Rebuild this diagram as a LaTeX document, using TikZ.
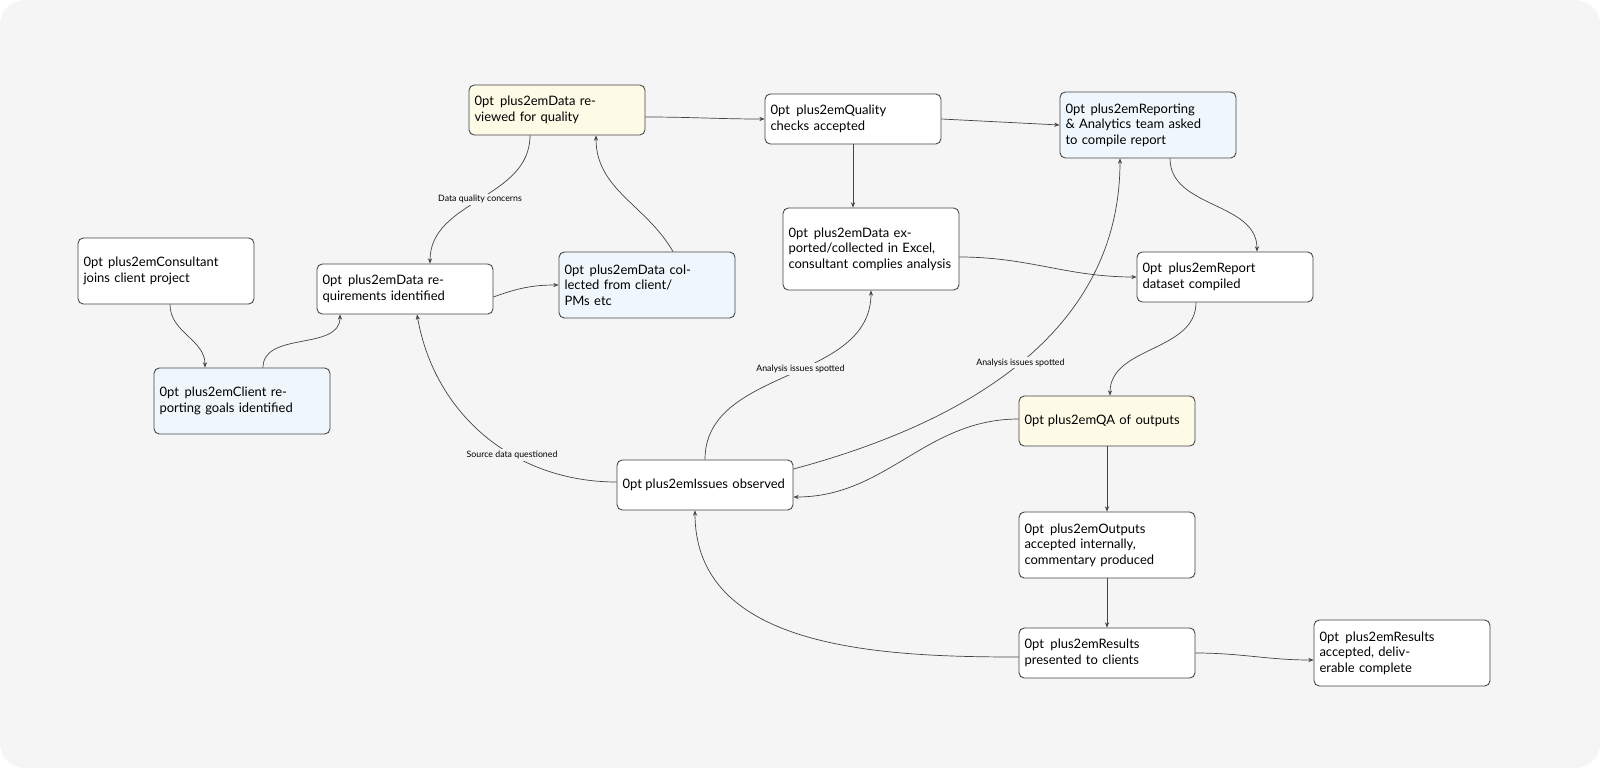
\documentclass[tikz,border=0pt]{standalone}
\usepackage{fontspec}
\setmainfont{Lato}
\usetikzlibrary{arrows.meta,calc}
\definecolor{bgc}{HTML}{F5F5F5}
\definecolor{bluef}{HTML}{EFF6FC}
\definecolor{yelf}{HTML}{FDFAE6}
\definecolor{edg}{HTML}{444444}
\begin{document}
\begin{tikzpicture}[x=0.02cm,y=-0.02cm,
 box/.style={draw=edg,line width=0.5pt,rounded corners=3pt,fill=white,minimum width=3.52cm,align=center,text width=3.3cm,font=\fontsize{7.4}{8.8}\selectfont\hyphenpenalty=10000,inner sep=0pt},
 h50/.style={minimum height=1cm},
 h66/.style={minimum height=1.32cm},
 blue/.style={fill=bluef}, yel/.style={fill=yelf},
 ar/.style={draw=edg,line width=0.4pt,-{Stealth[length=3pt,width=2.4pt]}},
 lab/.style={fill=bgc,font=\fontsize{5}{6}\selectfont,inner sep=1pt}]
\fill[white] (0,0) rectangle (1600,768);
\fill[bgc,rounded corners=14pt] (0,0) rectangle (1600,768);
\node[box,h66] (cons) at (166,271) {Consultant joins client project};
\node[box,h66,blue] (goals) at (242,401) {Client reporting goals identified};
\node[box,h50] (req) at (405,289) {Data requirements identified};
\node[box,h66,blue] (coll) at (647,285) {Data collected from client/\\PMs etc};
\node[box,h50,yel] (rev) at (557,110) {Data reviewed for quality};
\node[box,h50] (qc) at (853,119) {Quality checks accepted};
\node[box,h66,blue] (rat) at (1148,125) {Reporting \& Analytics team asked to compile report};
\node[box,minimum height=1.64cm] (exp) at (871,249) {Data exported/collected in Excel, consultant complies analysis};
\node[box,h50] (rds) at (1225,277) {Report dataset compiled};
\node[box,h50,yel] (qa) at (1107,421) {QA of outputs};
\node[box,h50] (iss) at (705,485) {Issues observed};
\node[box,h66] (out) at (1107,545) {Outputs accepted internally, commentary produced};
\node[box,h50] (res) at (1107,653) {Results presented to clients};
\node[box,h66] (acc) at (1402,653) {Results accepted, deliverable complete};
\draw[ar] ($(cons.south)+(4,0)$) to[out=-90,in=90] ($(goals.north)+(-37,0)$);
\draw[ar] ($(goals.north)+(21,0)$) to[out=90,in=-90] ($(req.south)+(-65,0)$);
\draw[ar] ($(req.east)+(0,8)$) to[out=20,in=180] (coll.west);
\draw[ar] ($(coll.north)+(26,0)$) to[out=120,in=-90] ($(rev.south)+(39,0)$);
\draw[ar] ($(rev.south)+(-27,0)$) to[out=-90,in=90] node[lab,pos=0.5]{Data quality concerns} ($(req.north)+(25,0)$);
\draw[ar] ($(rev.east)+(0,7)$) to[out=0,in=180] (qc.west);
\draw[ar] (qc.east) -- (rat.west);
\draw[ar] (qc.south) -- (qc.south|-exp.north);
\draw[ar] ($(exp.east)+(0,8)$) to[out=0,in=180] (rds.west);
\draw[ar] ($(rat.south)+(22,0)$) to[out=-90,in=90] ($(rds.north)+(32,0)$);
\draw[ar] ($(rds.south)+(-29,0)$) to[out=-90,in=90] ($(qa.north)+(3,0)$);
\draw[ar] ($(qa.west)+(0,-2)$) to[out=180,in=0] ($(iss.east)+(0,12)$);
\draw[ar] (qa.south) -- (out.north);
\draw[ar] (out.south) -- (res.north);
\draw[ar] (res.east) to[out=0,in=180] ($(acc.west)+(0,7)$);
\draw[ar] ($(res.west)+(0,4)$) to[out=180,in=-90] ($(iss.south)+(-10,0)$);
\draw[ar] ($(iss.west)+(0,-3)$) to[out=180,in=-80] node[lab,pos=0.38]{Source data questioned} ($(req.south)+(12,0)$);
\draw[ar] (iss.north) to[out=90,in=-90] node[lab,pos=0.55]{Analysis issues spotted} (exp.south);
\draw[ar] ($(iss.east)+(0,-16)$) to[out=15,in=-90] node[lab,pos=0.5]{Analysis issues spotted} ($(rat.south)+(-28,0)$);
\pgfresetboundingbox
\useasboundingbox (0,0) rectangle (1600,768);
\end{tikzpicture}
\end{document}
